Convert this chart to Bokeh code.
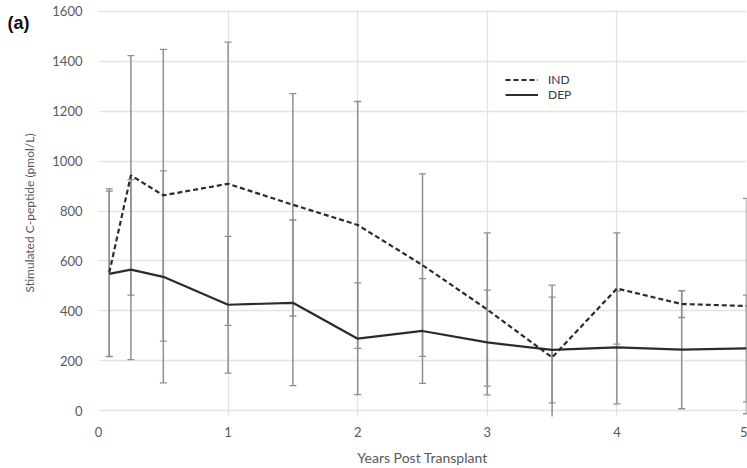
from bokeh.plotting import figure
from bokeh.models import ColumnDataSource, Whisker, TeeHead, Range1d, FixedTicker, Legend, LegendItem
from bokeh.embed import file_html
from bokeh.resources import INLINE

years = [0.083, 0.25, 0.5, 1.0, 1.5, 2.0, 2.5, 3.0, 3.5, 4.0, 4.5, 5.0]
ind = [553, 943, 863, 909, 825, 744, 583, 405, 213, 489, 427, 419]
ind_err = [336, 480, 585, 568, 446, 495, 366, 307, 290, 223, 54, 432]
dep = [548, 565, 536, 424, 432, 288, 319, 273, 243, 253, 244, 249]
dep_err = [332, 361, 425, 274, 332, 224, 210, 210, 212, 226, 237, 214]
series_names = ["IND", "DEP"]
x_ticks = [0, 1, 2, 3, 4, 5]
y_ticks = [0, 200, 400, 600, 800, 1000, 1200, 1400, 1600]

src_ind = ColumnDataSource(dict(x=years, y=ind,
                                lo=[v - e for v, e in zip(ind, ind_err)],
                                hi=[v + e for v, e in zip(ind, ind_err)]))
src_dep = ColumnDataSource(dict(x=years, y=dep,
                                lo=[v - e for v, e in zip(dep, dep_err)],
                                hi=[v + e for v, e in zip(dep, dep_err)]))

p = figure(width=747, height=468, output_backend="svg", toolbar_location=None,
           x_range=Range1d(0, 5), y_range=Range1d(-24, 1608),
           min_border_left=98, min_border_right=1, min_border_top=9, min_border_bottom=52)
p.outline_line_color = None
p.background_fill_color = "white"

# panel label "(a)"
p.title.text = "(a)"
p.title.align = "left"
p.title.offset = -91
p.title.standoff = -46
p.title.text_font = "Liberation Sans"
p.title.text_font_style = "bold"
p.title.text_font_size = "18px"
p.title.text_color = "#111111"

TXT = "#595959"
FONT = "Lato"
for ax in (p.xaxis, p.yaxis):
    ax.axis_line_color = None
    ax.major_tick_line_color = None
    ax.minor_tick_line_color = None
    ax.major_label_text_color = TXT
    ax.major_label_text_font = FONT
    ax.major_label_text_font_size = "13px"
    ax.axis_label_text_color = TXT
    ax.axis_label_text_font = FONT
    ax.axis_label_text_font_style = "normal"

p.xaxis.axis_label_text_font_size = "14px"
p.yaxis.axis_label_text_font_size = "12px"
p.xaxis.ticker = FixedTicker(ticks=x_ticks)
p.yaxis.ticker = FixedTicker(ticks=y_ticks)
p.xaxis.major_label_standoff = 4
p.yaxis.major_label_standoff = 10
p.xaxis.axis_label = "Years Post Transplant"
p.yaxis.axis_label = "Stimulated C-peptide (pmol/L)"
p.xaxis.axis_label_standoff = 9
p.yaxis.axis_label_standoff = 12

p.xgrid.ticker = FixedTicker(ticks=x_ticks)
p.ygrid.ticker = FixedTicker(ticks=y_ticks)
p.grid.grid_line_color = "#e3e3e3"
p.grid.grid_line_width = 1.3

BAR = "#8f8f8f"
for src in (src_ind, src_dep):
    w = Whisker(base="x", lower="lo", upper="hi", source=src,
                line_color=BAR, line_width=1.5, level="underlay",
                upper_head=TeeHead(size=7, line_color=BAR, line_width=1.3),
                lower_head=TeeHead(size=7, line_color=BAR, line_width=1.3))
    p.add_layout(w)

LINE = "#2b2b2b"
r_ind = p.line("x", "y", source=src_ind, line_color=LINE, line_width=2.2, line_dash="5 3")
r_dep = p.line("x", "y", source=src_dep, line_color=LINE, line_width=2.2)

# two one-item legends so the rows sit as close together as in the reference
for name, rend, ypos in zip(series_names, [r_ind, r_dep], [329, 314]):
    lg = Legend(items=[LegendItem(label=name, renderers=[rend])],
                location=(407, ypos), border_line_color=None, background_fill_alpha=0,
                padding=0, margin=0, spacing=0, glyph_width=33, glyph_height=13,
                label_height=13, label_standoff=10, label_text_font=FONT,
                label_text_font_size="12px", label_text_color="#3a3a3a")
    p.add_layout(lg)

open("out.html", "w").write(file_html(p, INLINE))
